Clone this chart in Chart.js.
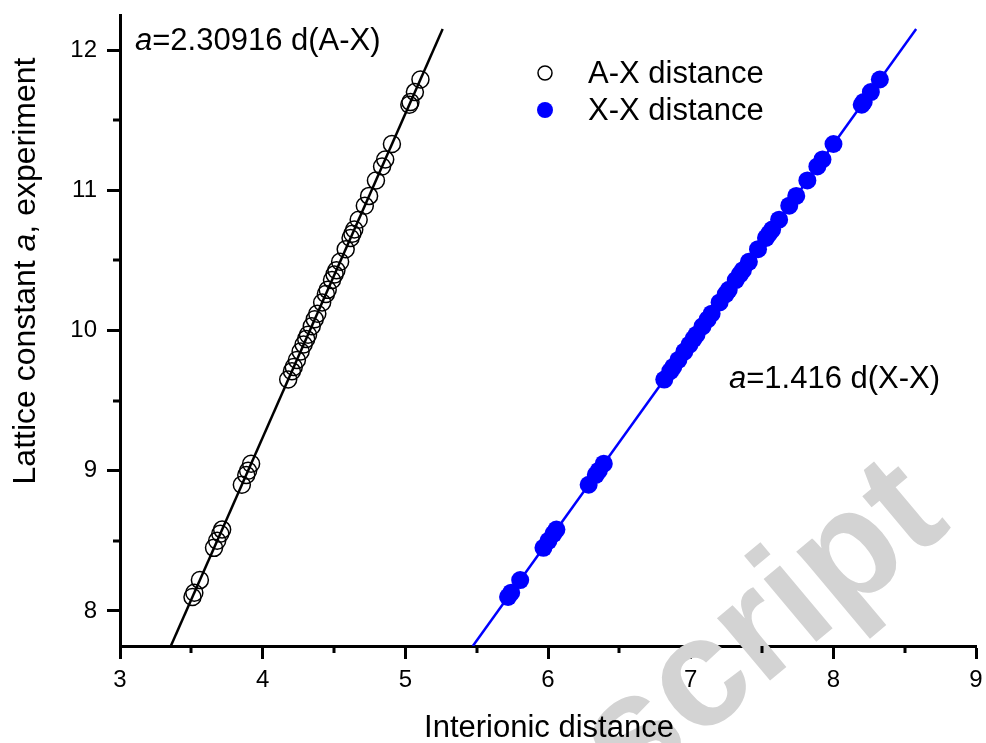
<!DOCTYPE html>
<html>
<head>
<meta charset="utf-8">
<script src="https://cdn.jsdelivr.net/npm/chart.js@4.4.1/dist/chart.umd.min.js"></script>
<style>
html,body{margin:0;padding:0;background:#fff;}
#wrap{width:986px;height:743px;position:relative;}
</style>
</head>
<body>
<div id="wrap"><canvas id="c"></canvas></div>
<script>
// Lattice constant a (experiment), shared by both series
const latticeA = [8.10, 8.13, 8.22, 8.45, 8.50, 8.55, 8.58, 8.90, 8.97, 9.00, 9.05,
  9.65, 9.71, 9.74, 9.79, 9.85, 9.90, 9.94, 9.97, 10.03, 10.08, 10.12, 10.20, 10.26,
  10.29, 10.36, 10.40, 10.43, 10.49, 10.58, 10.66, 10.69, 10.72, 10.79, 10.89, 10.96,
  11.07, 11.17, 11.22, 11.33, 11.61, 11.63, 11.70, 11.79];
// A-X interionic distance
const distAX = [3.508, 3.521, 3.560, 3.659, 3.681, 3.703, 3.716, 3.854, 3.885, 3.898, 3.919,
  4.179, 4.205, 4.218, 4.240, 4.266, 4.287, 4.305, 4.318, 4.344, 4.365, 4.383, 4.417, 4.443,
  4.456, 4.486, 4.504, 4.517, 4.543, 4.582, 4.616, 4.629, 4.642, 4.673, 4.716, 4.746,
  4.794, 4.837, 4.859, 4.906, 5.028, 5.036, 5.067, 5.106];
// X-X interionic distance
const distXX = [5.720, 5.742, 5.805, 5.968, 6.003, 6.038, 6.059, 6.285, 6.335, 6.356, 6.391,
  6.815, 6.857, 6.878, 6.914, 6.956, 6.992, 7.020, 7.041, 7.083, 7.119, 7.147, 7.203, 7.246,
  7.267, 7.316, 7.345, 7.366, 7.408, 7.472, 7.528, 7.549, 7.571, 7.620, 7.691, 7.740,
  7.818, 7.888, 7.924, 8.001, 8.199, 8.213, 8.263, 8.326];
// Linear fits a = k * d
const fitSlopes = [2.30916, 1.416];
const fitRangeA = [7.75, 12.15];
const seriesNames = ['A-X distance', 'X-X distance'];
const xTicks = [3, 4, 5, 6, 7, 8, 9];
const yTicks = [8, 9, 10, 11, 12];
const xMinorTicks = [3.5, 4.5, 5.5, 6.5, 7.5, 8.5];
const yMinorTicks = [8.5, 9.5, 10.5, 11.5];

const FONT = '"Liberation Sans", Arial, sans-serif';
const BLUE = '#0000ff';

const pts = (xs) => xs.map((x, i) => ({x: x, y: latticeA[i]}));
const fitLine = (k) => fitRangeA.map(a => ({x: a / k, y: a}));

const extras = {
  id: 'extras',
  beforeDatasetsDraw(chart) {
    const ctx = chart.ctx;
    // watermark
    ctx.save();
    ctx.translate(764, 630);
    ctx.rotate(-40 * Math.PI / 180);
    ctx.fillStyle = '#d3d3d3';
    ctx.font = 'bold 155px ' + FONT;
    ctx.textAlign = 'center';
    ctx.textBaseline = 'middle';
    ctx.fillText('script', 0, 0);
    ctx.restore();
  },
  afterDraw(chart) {
    const ctx = chart.ctx;
    const xs = chart.scales.x, ys = chart.scales.y;
    ctx.save();
    // minor ticks
    ctx.strokeStyle = '#000';
    ctx.lineWidth = 3;
    ctx.beginPath();
    xMinorTicks.forEach(v => {
      const px = Math.round(xs.getPixelForValue(v));
      ctx.moveTo(px, xs.top); ctx.lineTo(px, xs.top + 7);
    });
    yMinorTicks.forEach(v => {
      const py = Math.round(ys.getPixelForValue(v));
      ctx.moveTo(ys.right, py); ctx.lineTo(ys.right - 7, py);
    });
    ctx.stroke();

    function drawRuns(runs, x, y) {
      let cx = x;
      runs.forEach(r => {
        ctx.font = r[1];
        ctx.fillText(r[0], cx, y);
        cx += ctx.measureText(r[0]).width;
      });
    }
    ctx.fillStyle = '#000';
    ctx.textBaseline = 'alphabetic';
    ctx.textAlign = 'left';
    const norm = '31px ' + FONT, ital = 'italic 31px ' + FONT;
    drawRuns([['a', ital], ['=2.30916 d(A-X)', norm]], 135, 50);
    drawRuns([['a', ital], ['=1.416 d(X-X)', norm]], 729, 388);

    // legend
    const ds = chart.data.datasets;
    [0, 1].forEach(i => {
      const y = 73 + i * 37;
      ctx.beginPath();
      ctx.arc(545, y, i === 0 ? 7 : 8, 0, Math.PI * 2);
      if (i === 0) { ctx.lineWidth = 1.5; ctx.strokeStyle = '#000'; ctx.stroke(); }
      else { ctx.fillStyle = BLUE; ctx.fill(); }
      ctx.fillStyle = '#000';
      ctx.font = norm;
      ctx.textBaseline = 'alphabetic';
      ctx.fillText(ds[i].label, 588, y + 10);
    });

    // axis titles
    ctx.textBaseline = 'alphabetic';
    ctx.textAlign = 'center';
    ctx.font = '31px ' + FONT;
    ctx.fillText('Interionic distance', 549, 737);
    ctx.save();
    ctx.translate(35, 271);
    ctx.rotate(-Math.PI / 2);
    const yf = '32px ' + FONT;
    const runs = [['Lattice constant ', yf], ['a', 'italic ' + yf], [', experiment', yf]];
    let w = 0;
    runs.forEach(r => { ctx.font = r[1]; w += ctx.measureText(r[0]).width; });
    ctx.textAlign = 'left';
    drawRuns(runs, -w / 2, 0);
    ctx.restore();
    ctx.restore();
  }
};

new Chart(document.getElementById('c'), {
  type: 'scatter',
  data: {
    datasets: [
      {label: seriesNames[0], data: pts(distAX), pointStyle: 'circle', pointRadius: 8.5, pointHoverRadius: 8.5,
       borderColor: '#000', borderWidth: 1.5, backgroundColor: 'rgba(0,0,0,0)', order: 1},
      {label: seriesNames[1], data: pts(distXX), pointStyle: 'circle', pointRadius: 9, pointHoverRadius: 9,
       borderColor: BLUE, borderWidth: 0, backgroundColor: BLUE, order: 2},
      {label: 'fit A-X', data: fitLine(fitSlopes[0]), showLine: true, pointRadius: 0, borderColor: '#000',
       borderWidth: 2.5, backgroundColor: '#000', order: 3},
      {label: 'fit X-X', data: fitLine(fitSlopes[1]), showLine: true, pointRadius: 0, borderColor: BLUE,
       borderWidth: 2.5, backgroundColor: BLUE, order: 4}
    ]
  },
  options: {
    responsive: true,
    maintainAspectRatio: false,
    animation: false,
    events: [],
    layout: {padding: {top: 15, right: 9, left: 0, bottom: 0}},
    plugins: {legend: {display: false}, tooltip: {enabled: false}},
    scales: {
      x: {
        type: 'linear', min: 3, max: 9,
        afterBuildTicks: s => { s.ticks = xTicks.map(v => ({value: v})); },
        afterFit: s => { s.height = 97; s.paddingLeft = 0; s.paddingRight = 0; },
        ticks: {color: '#000', font: {family: FONT, size: 24}, padding: 7},
        grid: {display: true, drawOnChartArea: false, drawTicks: true, tickLength: 13, tickWidth: 3, tickColor: '#000'},
        border: {display: true, color: '#000', width: 3}
      },
      y: {
        type: 'linear', min: 7.75, max: 12.25,
        afterBuildTicks: s => { s.ticks = yTicks.map(v => ({value: v})); },
        afterFit: s => { s.width = 120; s.paddingTop = 0; s.paddingBottom = 0; },
        ticks: {color: '#000', font: {family: FONT, size: 24}, padding: 10},
        grid: {display: true, drawOnChartArea: false, drawTicks: true, tickLength: 13, tickWidth: 3, tickColor: '#000'},
        border: {display: true, color: '#000', width: 3}
      }
    }
  },
  plugins: [extras]
});
</script>
</body>
</html>
